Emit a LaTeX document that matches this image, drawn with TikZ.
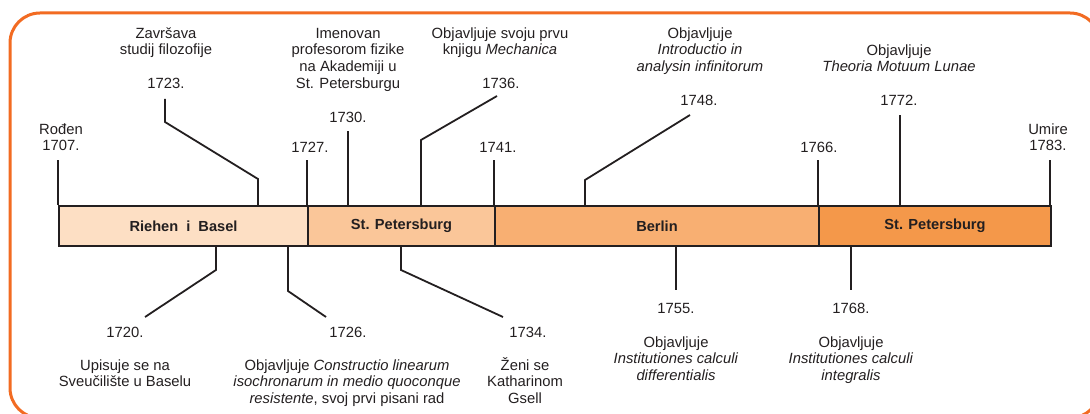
\documentclass[tikz,border=0pt]{standalone}
\usepackage{fontspec}
\setmainfont{Liberation Sans}
\definecolor{ink}{HTML}{231F20}
\definecolor{frameor}{HTML}{F26B22}
\definecolor{cA}{HTML}{FDDFC4}
\definecolor{cB}{HTML}{FAC699}
\definecolor{cC}{HTML}{F8AF72}
\definecolor{cD}{HTML}{F4984A}
\begin{document}
\begin{tikzpicture}[x=1pt,y=-1pt,
  txt/.style={font=\fontsize{14.8}{16.7}\selectfont, text=ink, inner sep=0pt},
  ml/.style={txt, anchor=north, align=center},
  yr/.style={txt},
  conn/.style={draw=ink, line width=1.8pt},
  seg/.style={draw=ink, line width=2pt, minimum height=40pt, anchor=north west, inner sep=0pt,
              font=\bfseries\fontsize{14.6}{16}\selectfont, text=ink},
  frm/.style={draw=frameor, line width=3pt, rounded corners=30pt}]
\clip (0,0) rectangle (1090,414);
\draw[frm] (10,13) rectangle (1100,418);

% ---- coordinates of connectors ----
% top ticks
\coordinate (a1707) at (58,205);  \coordinate (e1707) at (58,160);
\coordinate (a1727) at (307,205); \coordinate (e1727) at (307,160);
\coordinate (a1741) at (494,205); \coordinate (e1741) at (494,160);
\coordinate (a1766) at (818,205); \coordinate (e1766) at (818,160);
\coordinate (a1783) at (1050,205);\coordinate (e1783) at (1050,160);
\coordinate (a1730) at (348,205); \coordinate (e1730) at (348,131);
\coordinate (a1772) at (900,205); \coordinate (e1772) at (900,115);
\coordinate (a1723) at (258,205); \coordinate (k1723) at (258,179);
\coordinate (m1723) at (165,122); \coordinate (e1723) at (165,99);
\coordinate (a1736) at (421,205); \coordinate (k1736) at (421,140);
\coordinate (e1736) at (497,96);
\coordinate (a1748) at (585,205); \coordinate (k1748) at (585,180);
\coordinate (e1748) at (690,115);
% bottom
\coordinate (a1720) at (216,245); \coordinate (k1720) at (216,270);
\coordinate (e1720) at (145,317);
\coordinate (a1726) at (288,245); \coordinate (k1726) at (288,291);
\coordinate (e1726) at (326,317);
\coordinate (a1734) at (401,245); \coordinate (k1734) at (401,270);
\coordinate (e1734) at (503,317);
\coordinate (a1755) at (676,245); \coordinate (e1755) at (676,290);
\coordinate (a1768) at (851,245); \coordinate (e1768) at (851,290);

\draw[conn] (a1707) -- (e1707);
\draw[conn] (a1727) -- (e1727);
\draw[conn] (a1741) -- (e1741);
\draw[conn] (a1766) -- (e1766);
\draw[conn] (a1783) -- (e1783);
\draw[conn] (a1730) -- (e1730);
\draw[conn] (a1772) -- (e1772);
\draw[conn] (a1723) -- (k1723) -- (m1723) -- (e1723);
\draw[conn] (a1736) -- (k1736) -- (e1736);
\draw[conn] (a1748) -- (k1748) -- (e1748);
\draw[conn] (a1720) -- (k1720) -- (e1720);
\draw[conn] (a1726) -- (k1726) -- (e1726);
\draw[conn] (a1734) -- (k1734) -- (e1734);
\draw[conn] (a1755) -- (e1755);
\draw[conn] (a1768) -- (e1768);

% ---- bar ----
\node[seg, fill=cA, minimum width=249pt] (s1) at (58,205) {Riehen\ \ i\ \ Basel};
\node[seg, fill=cB, minimum width=187pt] (s2) at (307,205) {St. Petersburg};
\node[seg, fill=cC, minimum width=324pt] (s3) at (494,205) {Berlin};
\node[seg, fill=cD, minimum width=232pt] (s4) at (818,205) {St. Petersburg};

% ---- top labels ----
\node[ml] (l1707) at (61,122.3) {\strut Rođen\\1707.};
\node[yr] (y1727) at (310,147) {1727.};
\node[yr] (y1741) at (498,147) {1741.};
\node[yr] (y1766) at (819,147) {1766.};
\node[ml] (l1783) at (1048,122.3) {\strut Umire\\1783.};

\node[yr] (y1723) at (166,83) {1723.};
\node[ml] (t1723) at (166,26.3) {\strut Završava\\studij filozofije};

\node[yr] (y1730) at (348,117) {1730.};
\node[ml] (t1730) at (348,26.3) {\strut Imenovan\\profesorom fizike\\na Akademiji u\\St. Petersburgu};

\node[yr] (y1736) at (501,83) {1736.};
\node[ml] (t1736) at (500,26.3) {\strut Objavljuje svoju prvu\\knjigu \textit{Mechanica}};

\node[yr] (y1748) at (699,100) {1748.};
\node[ml] (t1748) at (700,26.3) {\strut Objavljuje\\\textit{Introductio in}\\\textit{analysin infinitorum}};

\node[yr] (y1772) at (899,100) {1772.};
\node[ml] (t1772) at (899,43.3) {\strut Objavljuje\\\textit{Theoria Motuum Lunae}};

% ---- bottom labels ----
\node[yr] (y1720) at (125,332) {1720.};
\node[ml] (t1720) at (125,358.3) {\strut Upisuje se na\\Sveučilište u Baselu};

\node[yr] (y1726) at (348,332) {1726.};
\node[ml] (t1726) at (347,358.3) {\strut Objavljuje \textit{Constructio linearum}\\\textit{isochronarum in medio quoconque}\\\textit{resistente}, svoj prvi pisani rad};

\node[yr] (y1734) at (528,332) {1734.};
\node[ml] (t1734) at (525,358.3) {\strut \smash{Ž}eni se\\Katharinom\\Gsell};

\node[yr] (y1755) at (676,308) {1755.};
\node[ml] (t1755) at (676,335.3) {\strut Objavljuje\\\textit{Institutiones calculi}\\\textit{differentialis}};

\node[yr] (y1768) at (851,308) {1768.};
\node[ml] (t1768) at (851,335.3) {\strut Objavljuje\\\textit{Institutiones calculi}\\\textit{integralis}};
\end{tikzpicture}
\end{document}
